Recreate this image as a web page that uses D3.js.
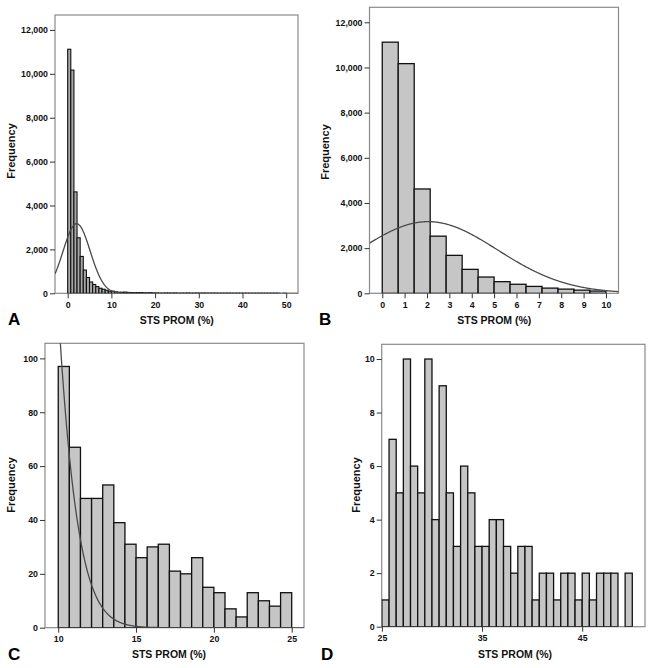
<!DOCTYPE html>
<html>
<head>
<meta charset="utf-8">
<script src="https://cdn.jsdelivr.net/npm/d3@7"></script>
<style>
  html, body { margin: 0; padding: 0; background: #fff; }
  svg { display: block; font-family: Arial, "Liberation Sans", sans-serif; }
  .tick text { font-size: 8.8px; font-weight: bold; fill: #111; }
  .tick line { stroke: #333; stroke-width: 1; }
</style>
</head>
<body>
<svg id="chart" width="654" height="668"></svg>
<script>
// ---- data (bin width 5/7 %, bins start at 0) ----
const binWidth = 5 / 7;
// bins 0 .. 10 %
const countsLow = [11120, 10170, 4620, 2530, 1680, 1060, 720, 515, 400, 305, 230, 185, 140, 100];
// bins 10 .. 25 %
const countsMid = [97, 67, 48, 48, 53, 39, 31, 26, 30, 31, 21, 20, 26, 15, 13, 7, 4, 13, 10, 8, 13];
// bins 25 .. 50 %
const countsHigh = [1, 7, 5, 10, 6, 5, 10, 4, 9, 5, 3, 6, 5, 3, 3, 4, 4, 3, 2, 3, 3, 1, 2, 2, 1, 2, 2, 1, 2, 1, 2, 2, 2, 0, 2];
// fitted normal curve parameters
const normalMean = 2.05;
const normalSD = 3.1;
// tick values
const ticksA_x = [0, 10, 20, 30, 40, 50];
const ticksB_x = [0, 1, 2, 3, 4, 5, 6, 7, 8, 9, 10];
const ticksC_x = [10, 15, 20, 25];
const ticksD_x = [25, 35, 45];
const ticksAB_y = [0, 2000, 4000, 6000, 8000, 10000, 12000];
const ticksC_y = [0, 20, 40, 60, 80, 100];
const ticksD_y = [0, 2, 4, 6, 8, 10];
const panelLetters = ["A", "B", "C", "D"];
const xTitle = "STS PROM (%)";
const yTitle = "Frequency";

const allCounts = countsLow.concat(countsMid, countsHigh);
const allBins = allCounts.map((c, i) => ({ x0: i * binWidth, x1: (i + 1) * binWidth, n: c }));
const totalN = d3.sum(allCounts);

const svg = d3.select("#chart");

const panels = [
  { bins: allBins, xd: [-2.9, 52.7], yd: [0, 12680], px: [55, 298], py: [293.3, 15],
    xt: ticksA_x, yt: ticksAB_y, fmt: d3.format(","), curve: true,
    ylab: [15, 151], xlab: [176.7, 324], let: [8, 325] },
  { bins: allBins.slice(0, 14), xd: [-0.57, 10.56], yd: [0, 12664], px: [369.5, 618.5], py: [293.3, 7.3],
    xt: ticksB_x, yt: ticksAB_y, fmt: d3.format(","), curve: true,
    ylab: [328.5, 152], xlab: [494.3, 324], let: [319, 325] },
  { bins: allBins.slice(14, 35), xd: [9.15, 25.79], yd: [0, 105.6], px: [45, 304], py: [627.7, 343.3],
    xt: ticksC_x, yt: ticksC_y, fmt: d3.format("d"), curve: true,
    ylab: [15, 485], xlab: [169, 658], let: [8, 660] },
  { bins: allBins.slice(35), xd: [24.98, 51.27], yd: [0, 10.55], px: [381.7, 645], py: [626.7, 344.3],
    xt: ticksD_x, yt: ticksD_y, fmt: d3.format("d"), curve: false,
    ylab: [359.5, 485], xlab: [515, 658], let: [321, 660] }
];

panels.forEach((p, idx) => {
  const x = d3.scaleLinear().domain(p.xd).range(p.px);
  const y = d3.scaleLinear().domain(p.yd).range(p.py);
  const g = svg.append("g");

  const clipId = "clip" + idx;
  g.append("clipPath").attr("id", clipId).append("rect")
    .attr("x", p.px[0]).attr("y", p.py[1])
    .attr("width", p.px[1] - p.px[0]).attr("height", p.py[0] - p.py[1]);

  // frame
  g.append("rect")
    .attr("x", p.px[0]).attr("y", p.py[1])
    .attr("width", p.px[1] - p.px[0]).attr("height", p.py[0] - p.py[1])
    .attr("fill", "#fff").attr("stroke", "#8a8a8a").attr("stroke-width", 1.2);

  // bars
  g.append("g").attr("clip-path", `url(#${clipId})`)
    .selectAll("rect").data(p.bins.filter(b => b.n > 0)).join("rect")
    .attr("x", d => x(d.x0))
    .attr("width", d => x(d.x1) - x(d.x0))
    .attr("y", d => y(d.n))
    .attr("height", d => y(0) - y(d.n))
    .attr("fill", idx === 0 ? "#a8a8a8" : "#c6c6c6")
    .attr("stroke", "#111")
    .attr("stroke-width", idx === 0 ? 1.1 : 1.3);

  // normal curve
  if (p.curve) {
    const pts = d3.range(p.xd[0], p.xd[1] + 0.001, (p.xd[1] - p.xd[0]) / 600);
    const dens = v => totalN * binWidth / (normalSD * Math.sqrt(2 * Math.PI)) *
      Math.exp(-Math.pow(v - normalMean, 2) / (2 * normalSD * normalSD));
    g.append("path").attr("clip-path", `url(#${clipId})`)
      .datum(pts)
      .attr("fill", "none").attr("stroke", "#4a4a4a").attr("stroke-width", 1.3)
      .attr("d", d3.line().x(v => x(v)).y(v => y(dens(v))));
  }

  // axes
  const ax = g.append("g").attr("transform", `translate(0,${p.py[0]})`)
    .call(d3.axisBottom(x).tickValues(p.xt).tickFormat(d3.format("d")).tickSize(5).tickPadding(3));
  ax.select(".domain").remove();
  const ay = g.append("g").attr("transform", `translate(${p.px[0]},0)`)
    .call(d3.axisLeft(y).tickValues(p.yt).tickFormat(p.fmt).tickSize(5).tickPadding(2));
  ay.select(".domain").remove();

  // titles
  g.append("text")
    .attr("transform", `translate(${p.ylab[0]},${p.ylab[1]}) rotate(-90)`)
    .attr("text-anchor", "middle")
    .attr("font-size", "11px").attr("font-weight", "bold").attr("fill", "#111")
    .text(yTitle);
  g.append("text")
    .attr("x", p.xlab[0]).attr("y", p.xlab[1])
    .attr("text-anchor", "middle")
    .attr("font-size", "10.5px").attr("font-weight", "bold").attr("fill", "#111")
    .text(xTitle);
  g.append("text")
    .attr("x", p.let[0]).attr("y", p.let[1])
    .attr("font-size", "17px").attr("font-weight", "bold").attr("fill", "#000")
    .text(panelLetters[idx]);
});
</script>
</body>
</html>
